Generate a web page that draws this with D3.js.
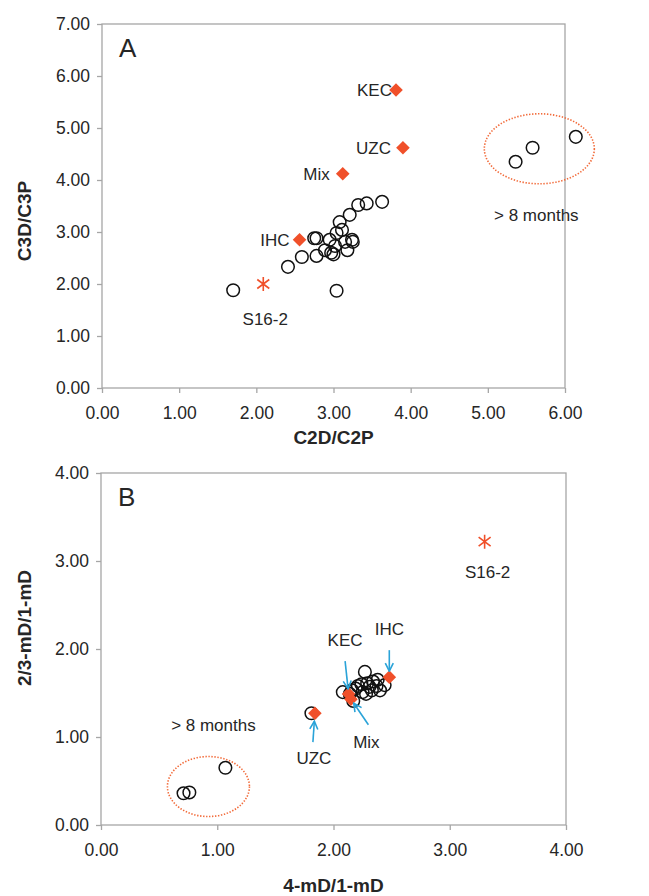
<!DOCTYPE html>
<meta charset="utf-8">
<style>
body { margin: 0; background: #fff; }
svg text { font-family: "Liberation Sans", Arial, sans-serif; fill: #262626; }
.tick text { font-size: 17.5px; fill: #262626; }
.tick line { stroke: #a6a6a6; stroke-width: 1.3; }
.frame { fill: none; stroke: #a6a6a6; stroke-width: 1.3; }
.axis-title { font-size: 19px; font-weight: bold; }
.note { font-size: 17px; }
.panel { font-size: 26px; }
.sample { fill: none; stroke: #111; stroke-width: 1.5; }
.ref { fill: #f0502a; }
.star { stroke: #f0502a; stroke-width: 1.6; fill: none; }
.ring { fill: none; stroke: #f26b3a; stroke-width: 1.6; stroke-dasharray: 1.4 1.6; }
.arrow { stroke: #2aa3d8; stroke-width: 1.6; fill: none; }
</style>
<body>
<svg width="649" height="896"></svg>
<script src="https://d3js.org/d3.v7.min.js"></script>
<script>

// ---- panel A : C2D/C2P vs C3D/C3P
var aSampleX = [1.70, 2.41, 2.59, 2.78, 2.89, 2.97, 3.00, 3.18, 2.78, 2.75, 3.04, 2.95, 3.24, 3.15, 3.25, 3.02, 3.08, 3.11, 3.21, 3.32, 3.43, 3.63, 3.04];
var aSampleY = [1.88, 2.33, 2.52, 2.54, 2.65, 2.60, 2.57, 2.65, 2.88, 2.88, 2.98, 2.85, 2.85, 2.81, 2.81, 2.73, 3.19, 3.04, 3.33, 3.52, 3.55, 3.58, 1.87];
var aOldX = [5.36, 5.58, 6.14];
var aOldY = [4.35, 4.62, 4.83];
var aRefNames = ["KEC", "UZC", "Mix", "IHC"];
var aRefX = [3.81, 3.90, 3.12, 2.56];
var aRefY = [5.73, 4.62, 4.12, 2.85];
var aStarX = 2.09, aStarY = 2.00;
var aXTicks = [0, 1, 2, 3, 4, 5, 6];
var aYTicks = [0, 1, 2, 3, 4, 5, 6, 7];

// ---- panel B : 4-mD/1-mD vs 2/3-mD/1-mD
var bSampleX = [2.08, 2.17, 2.27, 2.21, 2.29, 2.34, 2.38, 2.44, 2.33, 2.25, 2.14, 2.19, 2.24, 2.31, 2.37, 2.40, 2.28, 2.16, 1.81];
var bSampleY = [1.51, 1.41, 1.74, 1.58, 1.61, 1.63, 1.65, 1.59, 1.53, 1.51, 1.49, 1.55, 1.60, 1.57, 1.58, 1.53, 1.49, 1.53, 1.27];
var bOldX = [1.07, 0.71, 0.76];
var bOldY = [0.65, 0.36, 0.37];
var bRefNames = ["KEC", "IHC", "Mix", "UZC"];
var bRefX = [2.13, 2.48, 2.15, 1.84];
var bRefY = [1.49, 1.68, 1.43, 1.27];
var bStarX = 3.30, bStarY = 3.22;
var bXTicks = [0, 1, 2, 3, 4];
var bYTicks = [0, 1, 2, 3, 4];

var svg = d3.select("svg");
var fmt = d3.format(".2f");

var diamond = "M0,-6.8L6.8,0L0,6.8L-6.8,0Z";
var starPath = "M0,-7L0,7M-6,-4.5L6,4.5M-6,4.5L6,-4.5";

svg.append("defs").append("marker")
    .attr("id", "head")
    .attr("markerUnits", "userSpaceOnUse")
    .attr("viewBox", "0 0 10 10")
    .attr("refX", 9).attr("refY", 5)
    .attr("markerWidth", 10).attr("markerHeight", 10)
    .attr("orient", "auto")
  .append("path")
    .attr("d", "M1,1L9,5L1,9")
    .attr("fill", "none")
    .attr("stroke", "#2aa3d8")
    .attr("stroke-width", 1.6);

function panel(o) {
  var x = d3.scaleLinear().domain([0, d3.max(o.xTicks)]).range([o.left, o.right]);
  var y = d3.scaleLinear().domain([0, d3.max(o.yTicks)]).range([o.bottom, o.top]);
  var g = svg.append("g");

  g.append("rect").attr("class", "frame")
      .attr("x", o.left).attr("y", o.top)
      .attr("width", o.right - o.left).attr("height", o.bottom - o.top);

  g.append("g")
      .attr("transform", "translate(0," + o.bottom + ")")
      .call(d3.axisBottom(x).tickValues(o.xTicks).tickFormat(fmt).tickSize(5).tickPadding(14))
      .call(function(s) { s.select(".domain").remove(); });

  g.append("g")
      .attr("transform", "translate(" + o.left + ",0)")
      .call(d3.axisLeft(y).tickValues(o.yTicks).tickFormat(fmt).tickSize(5).tickPadding(7))
      .call(function(s) { s.select(".domain").remove(); });

  g.append("text").attr("class", "axis-title")
      .attr("x", (o.left + o.right) / 2).attr("y", o.xTitleY)
      .attr("text-anchor", "middle").attr("dy", "0.35em")
      .text(o.xTitle);

  g.append("text").attr("class", "axis-title")
      .attr("transform", "translate(24," + o.yTitleY + ") rotate(-90)")
      .attr("text-anchor", "middle").attr("dy", "0.35em")
      .text(o.yTitle);

  g.append("text").attr("class", "panel")
      .attr("x", o.left + 17).attr("y", o.top + 33)
      .text(o.letter);

  // dotted ring around the > 8 months samples
  var ex = d3.mean(o.oldX), ey = d3.mean(o.oldY);
  var ecx = x(ex) + o.ring[0], ecy = y(ey) + o.ring[1];
  g.append("ellipse").attr("class", "ring")
      .attr("cx", ecx).attr("cy", ecy)
      .attr("rx", o.ring[2]).attr("ry", o.ring[3]);
  g.append("text").attr("class", "note")
      .attr("x", ecx + o.oldLabel[0]).attr("y", ecy + o.oldLabel[1])
      .attr("text-anchor", "middle").attr("dy", "0.35em")
      .text("> 8 months");

  g.selectAll("circle.s")
    .data(d3.range(o.sx.length).map(function(i) { return [o.sx[i], o.sy[i]]; })
      .concat(o.oldX.map(function(v, i) { return [v, o.oldY[i]]; })))
    .enter().append("circle")
      .attr("class", "sample")
      .attr("cx", function(d) { return x(d[0]); })
      .attr("cy", function(d) { return y(d[1]); })
      .attr("r", 6.3);

  var refs = o.refNames.map(function(n, i) { return {name: n, x: o.refX[i], y: o.refY[i]}; });
  g.selectAll("path.ref").data(refs).enter().append("path")
      .attr("class", "ref")
      .attr("d", diamond)
      .attr("transform", function(d) { return "translate(" + x(d.x) + "," + y(d.y) + ")"; });

  g.append("path").attr("class", "star")
      .attr("d", starPath)
      .attr("transform", "translate(" + x(o.starX) + "," + y(o.starY) + ")");
  g.append("text").attr("class", "note")
      .attr("x", x(o.starX) + o.starLabel[0]).attr("y", y(o.starY) + o.starLabel[1])
      .attr("text-anchor", "middle").attr("dy", "0.35em")
      .text("S16-2");

  refs.forEach(function(d) {
    var a = o.notes[d.name];
    var px = x(d.x), py = y(d.y);
    if (a.arrow) {
      var len = Math.hypot(a.arrow[0], a.arrow[1]);
      var ux = a.arrow[0] / len, uy = a.arrow[1] / len;
      var tx = px + ux * (a.gap + a.len), ty = py + uy * (a.gap + a.len);
      g.append("line").attr("class", "arrow")
          .attr("x1", tx).attr("y1", ty)
          .attr("x2", px + ux * a.gap).attr("y2", py + uy * a.gap)
          .attr("marker-end", "url(#head)");
      g.append("text").attr("class", "note")
          .attr("x", tx + a.label[0]).attr("y", ty + a.label[1])
          .attr("text-anchor", "middle").attr("dy", "0.35em")
          .text(d.name);
    } else {
      g.append("text").attr("class", "note")
          .attr("x", px - a.dx).attr("y", py)
          .attr("text-anchor", "end").attr("dy", "0.35em")
          .text(d.name);
    }
  });
}

panel({
  letter: "A", left: 102, right: 565, top: 24, bottom: 388,
  xTicks: aXTicks, yTicks: aYTicks,
  xTitle: "C2D/C2P", yTitle: "C3D/C3P", xTitleY: 437, yTitleY: 221,
  sx: aSampleX, sy: aSampleY, oldX: aOldX, oldY: aOldY,
  ring: [-2, 0, 55, 35], oldLabel: [-3, 66],
  refNames: aRefNames, refX: aRefX, refY: aRefY,
  starX: aStarX, starY: aStarY, starLabel: [2, 35],
  notes: { KEC: {dx: 4}, UZC: {dx: 12}, Mix: {dx: 13}, IHC: {dx: 10} }
});

panel({
  letter: "B", left: 101, right: 566, top: 473, bottom: 825,
  xTicks: bXTicks, yTicks: bYTicks,
  xTitle: "4-mD/1-mD", yTitle: "2/3-mD/1-mD", xTitleY: 885, yTitleY: 628,
  sx: bSampleX, sy: bSampleY, oldX: bOldX, oldY: bOldY,
  ring: [9, 2, 41, 30], oldLabel: [5, -61],
  refNames: bRefNames, refX: bRefX, refY: bRefY,
  starX: bStarX, starY: bStarY, starLabel: [3, 30],
  notes: {
    KEC: {arrow: [-3, -28], gap: 5, len: 28, label: [0, -21]},
    IHC: {arrow: [0, -1], gap: 6, len: 21, label: [0, -21]},
    Mix: {arrow: [15, 22], gap: 5, len: 26, label: [-2, 17]},
    UZC: {arrow: [-2, 29], gap: 8, len: 21, label: [1, 16]}
  }
});

</script>
</body>
